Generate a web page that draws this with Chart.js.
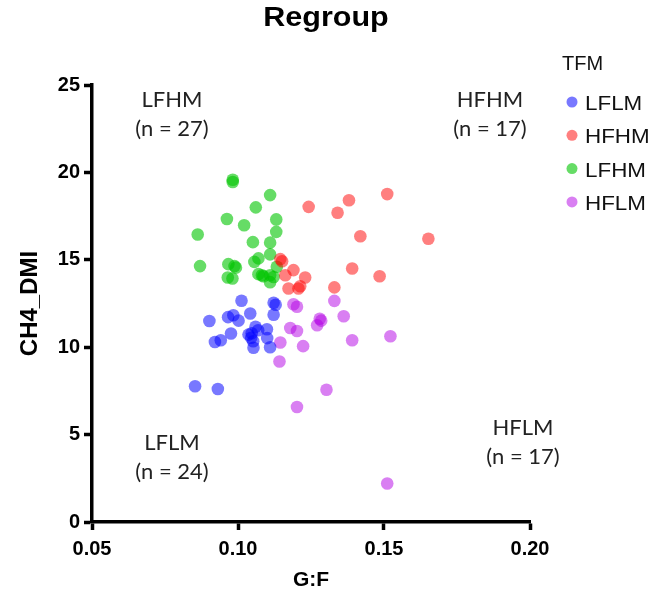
<!DOCTYPE html>
<html>
<head>
<meta charset="utf-8">
<script src="https://cdn.jsdelivr.net/npm/chart.js@4.4.0/dist/chart.umd.min.js"></script>
<style>
  html, body { margin: 0; padding: 0; background: #fff; }
  #wrap { position: relative; width: 651px; height: 602px; }
</style>
</head>
<body>
<div id="wrap"><canvas id="scatter" width="651" height="602"></canvas></div>
<script>
// Data (G:F vs CH4_DMI)
const lflmX = [0.1012, 0.0902, 0.0966, 0.0984, 0.1002, 0.1042, 0.1122, 0.1129, 0.1122, 0.1060, 0.0976, 0.1036,
               0.1047, 0.1045, 0.1052, 0.1099, 0.1100, 0.1110, 0.1053, 0.0921, 0.0941, 0.0853, 0.0931, 0.1069];
const lflmY = [12.66, 11.50, 11.72, 11.83, 11.52, 11.93, 12.54, 12.43, 11.86, 11.17, 10.78, 10.72,
               10.80, 10.54, 10.34, 11.03, 10.52, 10.00, 9.97, 10.30, 10.40, 7.77, 7.61, 10.97];

const hfhmX = [0.1242, 0.1341, 0.1380, 0.1511, 0.1419, 0.1652, 0.1391, 0.1485, 0.1330, 0.1190, 0.1230, 0.1162,
               0.1145, 0.1151, 0.1173, 0.1207, 0.1213];
const hfhmY = [18.03, 17.69, 18.41, 18.76, 16.35, 16.20, 14.50, 14.06, 13.42, 14.41, 13.99, 14.12,
               15.04, 14.92, 13.36, 13.36, 13.49];

const lfhmX = [0.0982, 0.0982, 0.1110, 0.1061, 0.0962, 0.1021, 0.1131, 0.1131, 0.0862, 0.1051, 0.1110, 0.1110,
               0.0870, 0.0967, 0.0988, 0.0993, 0.0965, 0.0981, 0.1056, 0.1070, 0.1070, 0.1082, 0.1110, 0.1122,
               0.1110, 0.1133, 0.1087];
const lfhmY = [19.58, 19.45, 18.70, 18.00, 17.33, 16.98, 17.31, 16.60, 16.45, 16.01, 15.98, 15.31,
               14.64, 14.75, 14.64, 14.55, 13.99, 13.93, 14.88, 15.08, 14.18, 14.12, 14.12, 14.02,
               13.72, 14.60, 14.06];

const hflmX = [0.1330, 0.1190, 0.1202, 0.1280, 0.1285, 0.1271, 0.1362, 0.1179, 0.1202, 0.1145, 0.1223, 0.1391,
               0.1522, 0.1142, 0.1303, 0.1202, 0.1511];
const hflmY = [12.65, 12.46, 12.31, 11.63, 11.52, 11.26, 11.77, 11.10, 10.93, 10.27, 10.06, 10.40,
               10.63, 9.18, 7.57, 6.58, 2.20];

const groupNames = ['LFLM', 'HFHM', 'LFHM', 'HFLM'];
const groupColors = ['rgba(0,0,255,0.53)', 'rgba(255,0,0,0.5)', 'rgba(0,197,0,0.6)', 'rgba(180,0,230,0.5)'];

const xTicks = [0.05, 0.10, 0.15, 0.20];
const yTicks = [0, 5, 10, 15, 20, 25];

// quadrant notes: [label, count, centre x, y of first line]
const quadNotes = [
    ['LFHM', 27, 172, 100],
    ['HFHM', 17, 490, 100],
    ['LFLM', 24, 172, 443],
    ['HFLM', 17, 523, 428]
];

const toPoints = (xs, ys) => xs.map((x, i) => ({ x: x, y: ys[i] }));
const allX = [lflmX, hfhmX, lfhmX, hflmX];
const allY = [lflmY, hfhmY, lfhmY, hflmY];

const ARIAL = 'Arial, "Liberation Sans", sans-serif';
const tickFont = { family: ARIAL, size: 20, weight: 'bold' };

// the reference text is a bit wider than it is tall, so stretch a little
function wideText(ctx, str, x, y, sx) {
    ctx.save();
    ctx.translate(x, y);
    ctx.scale(sx, 1);
    ctx.fillText(str, 0, 0);
    ctx.restore();
}

// Title, quadrant notes and legend drawn on top
const extrasPlugin = {
    id: 'extras',
    afterDraw(chart) {
        const ctx = chart.ctx;
        ctx.save();
        ctx.fillStyle = '#000';
        ctx.textAlign = 'center';
        ctx.textBaseline = 'middle';
        ctx.font = 'bold 27px ' + ARIAL;
        wideText(ctx, 'Regroup', 326, 19, 1.13);

        ctx.fillStyle = '#222';
        ctx.font = '22px Lato, "Open Sans", sans-serif';
        quadNotes.forEach(q => {
            ctx.fillText(q[0], q[2], q[3]);
            ctx.fillText('(n = ' + q[1] + ')', q[2], q[3] + 29);
        });

        // legend
        ctx.textAlign = 'left';
        ctx.textBaseline = 'alphabetic';
        ctx.fillStyle = '#111';
        ctx.font = '20px ' + ARIAL;
        ctx.fillText('TFM', 562, 70);
        groupNames.forEach((name, i) => {
            const y = 102 + i * 33.3;
            ctx.beginPath();
            ctx.arc(572, y, 5.5, 0, Math.PI * 2);
            ctx.fillStyle = groupColors[i];
            ctx.fill();
            ctx.fillStyle = '#111';
            wideText(ctx, name, 585, y + 8, 1.12);
        });
        ctx.restore();
    }
};

new Chart(document.getElementById('scatter'), {
    type: 'scatter',
    data: {
        datasets: groupNames.map((name, i) => ({
            label: name,
            data: toPoints(allX[i], allY[i]),
            backgroundColor: groupColors[i],
            borderWidth: 0,
            pointRadius: 6.3,
            pointHoverRadius: 6.3
        }))
    },
    options: {
        responsive: false,
        animation: false,
        layout: { padding: { top: 85, right: 121, left: 0, bottom: 0 } },
        plugins: { legend: { display: false }, title: { display: false }, tooltip: { enabled: false } },
        scales: {
            x: {
                type: 'linear',
                min: 0.05, max: 0.20,
                afterBuildTicks: s => { s.ticks = xTicks.map(v => ({ value: v })); },
                afterFit: s => { s.height = 80; },
                border: { display: true, color: '#000', width: 3.5 },
                grid: { drawOnChartArea: false, drawTicks: true, tickLength: 8, tickColor: '#000', tickWidth: 3.5 },
                ticks: { color: '#000', font: tickFont, padding: 7, callback: v => v.toFixed(2) },
                title: { display: true, text: 'G:F', color: '#000', font: { family: ARIAL, size: 21, weight: 'bold' }, padding: { top: 0, bottom: 9 } }
            },
            y: {
                type: 'linear',
                min: 0, max: 25,
                afterBuildTicks: s => { s.ticks = yTicks.map(v => ({ value: v })); },
                afterFit: s => { s.width = 92; },
                border: { display: true, color: '#000', width: 3.5 },
                grid: { drawOnChartArea: false, drawTicks: true, tickLength: 8, tickColor: '#000', tickWidth: 3.5 },
                ticks: { color: '#000', font: tickFont, padding: 4 },
                title: { display: true, text: 'CH4_DMI', color: '#000', font: { family: ARIAL, size: 24, weight: 'bold' }, padding: { top: 16, bottom: 0 } }
            }
        }
    },
    plugins: [extrasPlugin]
});
</script>
</body>
</html>
